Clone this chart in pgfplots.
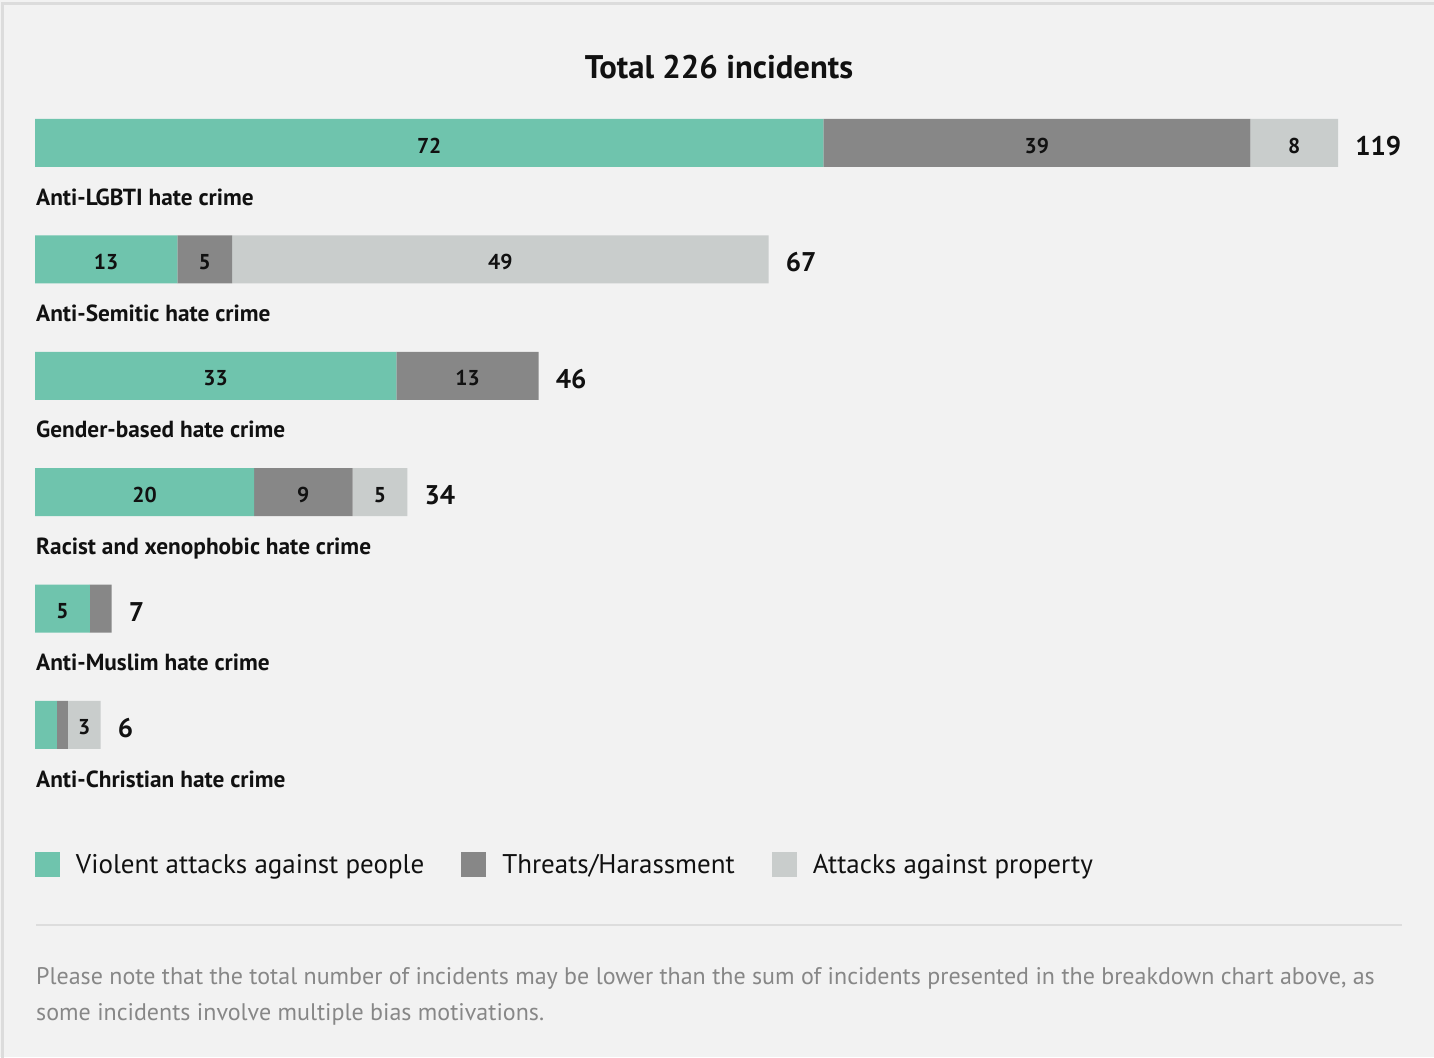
\documentclass[border=0pt]{standalone}
\usepackage{pgfplots}
\pgfplotsset{compat=1.18}
\usepackage{fontspec}
\setmainfont{PT Sans}
\definecolor{cteal}{HTML}{6FC4AD}
\definecolor{cdark}{HTML}{878787}
\definecolor{clight}{HTML}{C9CDCC}
\definecolor{cbg}{HTML}{F2F2F2}
\definecolor{cborder}{HTML}{DCDCDC}
\definecolor{ctext}{HTML}{111111}
\definecolor{cnote}{HTML}{878787}
\definecolor{csep}{HTML}{DDDDDD}
\begin{document}
\begin{tikzpicture}
\useasboundingbox (0,0) rectangle (1434pt,1057pt);
\fill[cbg] (0,0) rectangle (1434pt,1057pt);
\draw[cborder, line width=2.5pt] (2.5pt,-5pt) -- (2.5pt,1053.5pt) -- (1440pt,1053.5pt);
\node[anchor=base, font=\bfseries\fontsize{32.7}{38}\selectfont, text=ctext] at (719pt,978pt) {Total 226 incidents};

\begin{axis}[
  at={(35pt,332pt)}, anchor=south west, scale only axis,
  width=1314pt, height=582pt, xmin=0, xmax=120, ymin=0, ymax=5,
  hide axis, clip=false, xbar stacked, bar width=48pt,
  legend columns=3,
  legend image code/.code={\fill[#1,draw=none] (0pt,-12.5pt) rectangle (25pt,12.5pt);},
  legend style={at={(0,-0.2405)}, anchor=west, draw=none, fill=none,
    inner sep=0pt, outer sep=0pt,
    font=\fontsize{27}{32}\selectfont, text=ctext,
    nodes={inner sep=0pt, outer sep=0pt},
    /tikz/every odd column/.append style={column sep=16pt},
    /tikz/every even column/.append style={column sep=37pt}},
]
\addplot[fill=cteal, draw=none] coordinates {(72,5) (13,4) (33,3) (20,2) (5,1) (2,0)};
\addplot[fill=cdark, draw=none] coordinates {(39,5) (5,4) (13,3) (9,2) (2,1) (1,0)};
\addplot[fill=clight, draw=none] coordinates {(8,5) (49,4) (0,3) (5,2) (0,1) (3,0)};
\legend{Violent attacks against people, Threats/Harassment, Attacks against property}
\end{axis}

\begin{axis}[
  at={(35pt,332pt)}, anchor=south west, scale only axis,
  width=1314pt, height=582pt, xmin=0, xmax=120, ymin=0, ymax=5,
  hide axis, clip=false,
]
% segment values
\addplot[only marks, mark=none, nodes near coords, point meta=explicit symbolic,
  every node near coord/.append style={anchor=center, inner sep=0pt, yshift=-2.5pt,
    font=\bfseries\fontsize{21.5}{24}\selectfont, text=ctext}]
  coordinates {(36,5)[72] (91.5,5)[39] (115,5)[8]
               (6.5,4)[13] (15.5,4)[5] (42.5,4)[49]
               (16.5,3)[33] (39.5,3)[13]
               (10,2)[20] (24.5,2)[9] (31.5,2)[5]
               (2.5,1)[5]
               (4.5,0)[3]};
% totals
\addplot[only marks, mark=none, nodes near coords, point meta=explicit symbolic,
  every node near coord/.append style={anchor=west, inner sep=0pt, xshift=17pt, yshift=-3pt,
    font=\bfseries\fontsize{27}{32}\selectfont, text=ctext}]
  coordinates {(119,5)[119] (67,4)[67] (46,3)[46] (34,2)[34] (7,1)[7] (6,0)[6]};
% category labels
\addplot[only marks, mark=none, nodes near coords, point meta=explicit symbolic,
  every node near coord/.append style={anchor=base west, inner sep=0pt, xshift=1pt,
    font=\bfseries\fontsize{23.3}{28}\selectfont, text=ctext}]
  coordinates {(0,4.467)[Anti-LGBTI hate crime] (0,3.467)[Anti-Semitic hate crime]
               (0,2.467)[Gender-based hate crime] (0,1.467)[Racist and xenophobic hate crime]
               (0,0.467)[Anti-Muslim hate crime] (0,-0.533)[Anti-Christian hate crime]};
\end{axis}

\draw[csep, line width=2pt] (36pt,132pt) -- (1402pt,132pt);
\node[anchor=base west, inner sep=0pt, font=\fontsize{24}{28}\selectfont, text=cnote] at (36pt,72pt)
  {Please note that the total number of incidents may be lower than the sum of incidents presented in the breakdown chart above, as};
\node[anchor=base west, inner sep=0pt, font=\fontsize{24}{28}\selectfont, text=cnote] at (36pt,37pt)
  {some incidents involve multiple bias motivations.};
\end{tikzpicture}
\end{document}
